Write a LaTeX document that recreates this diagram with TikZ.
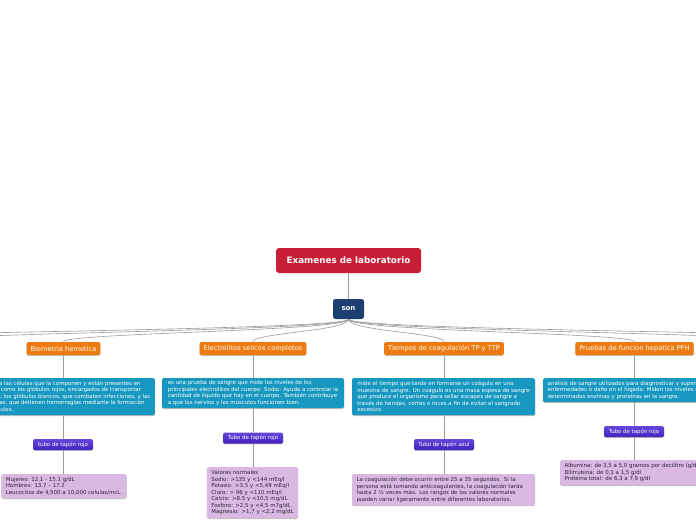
\documentclass[tikz,border=0pt]{standalone}
\usepackage{fontspec}
\setmainfont{DejaVu Sans}
\usetikzlibrary{shadows}
\definecolor{rootred}{HTML}{C71F37}
\definecolor{sonblue}{HTML}{1C3F70}
\definecolor{catorange}{HTML}{EE7B10}
\definecolor{descteal}{HTML}{1898C0}
\definecolor{tubepurple}{HTML}{4A26D4}
\definecolor{vallilac}{HTML}{D9B8E1}
\definecolor{valtext}{HTML}{2E2238}
\definecolor{connline}{HTML}{9A9A9A}
\newcommand\smallf{\fontsize{5.45}{6.5}\selectfont}
\tikzset{
  x=1pt, y=-1pt,
  conn/.style={draw=connline, line width=0.6pt},
  shad/.style={drop shadow={shadow xshift=0pt, shadow yshift=-0.8pt, opacity=0.25, fill=black}},
  rootbox/.style={fill=rootred, rounded corners=3pt, text=white, font=\fontsize{8.8}{10}\selectfont\bfseries, minimum width=145pt, minimum height=25pt, inner sep=0pt},
  sonbox/.style={fill=sonblue, rounded corners=2.5pt, text=white, font=\fontsize{7}{8}\selectfont\bfseries, minimum width=31pt, minimum height=20pt, inner sep=0pt},
  catbox/.style={fill=catorange, rounded corners=1.5pt, text=white, font=\fontsize{6.7}{7}\selectfont, minimum height=13pt, inner ysep=0pt, inner xsep=4pt, shad},
  descbox/.style={fill=descteal, rounded corners=1.5pt, text=white, font=\smallf, align=left, inner xsep=4.5pt, inner ysep=2pt, anchor=north, shad},
  tubebox/.style={top color=tubepurple!85!white, bottom color=tubepurple!90!black, rounded corners=1.5pt, text=white, font=\fontsize{5.4}{6}\selectfont, minimum width=60pt, minimum height=11pt, inner sep=0pt, shad},
  valbox/.style={fill=vallilac, rounded corners=1.5pt, text=valtext, font=\smallf, align=left, inner xsep=4.5pt, inner ysep=2pt, anchor=north, shad}
}
\begin{document}
\begin{tikzpicture}
\useasboundingbox (0,0) rectangle (696,520);
\clip (0,0) rectangle (696,520);
\fill[white] (0,0) rectangle (696,520);

% top
\node[rootbox] (root) at (348.5,260.5) {Examenes de laboratorio};
\node[sonbox] (son) at (348.5,309) {son};

% categories
\node[catbox] (bio) at (63.5,348.5) {Biometria hemetica};
\node[catbox] (ele) at (253,348.5) {Electrolitos selicos completos};
\node[catbox] (tie) at (444,348.5) {Tiempos de coagulación TP y TTP};
\node[catbox] (pru) at (634.5,348.5) {Pruebas de funcion hepatica PFH};

% off-canvas branches
\coordinate (offL1) at (-90,342);
\coordinate (offL2) at (-260,342);
\coordinate (offR1) at (790,342);
\coordinate (offR2) at (960,342);

% descriptions
\node[descbox, anchor=north east, minimum height=37pt] (dbio) at (155,378) {Examina las células que la componen y están presentes en\\sangre, como los glóbulos rojos, encargados de transportar\\oxígeno; los glóbulos blancos, que combaten infecciones, y las\\plaquetas, que detienen hemorragias mediante la formación\\de coágulos.};
\node[descbox, minimum height=30pt, minimum width=182pt] (dele) at (253,378) {es una prueba de sangre que mide los niveles de los\\principales electrolitos del cuerpo: Sodio: Ayuda a controlar la\\cantidad de líquido que hay en el cuerpo. También contribuye\\a que los nervios y los músculos funcionen bien.};
\node[descbox, minimum height=37pt, minimum width=183pt] (dtie) at (443.5,378) {mide el tiempo que tarda en formarse un coágulo en una\\muestra de sangre. Un coágulo es una masa espesa de sangre\\que produce el organismo para sellar escapes de sangre a\\través de heridas, cortes o roces a fin de evitar el sangrado\\excesivo.};
\node[descbox, anchor=north west, minimum height=24pt] (dpru) at (543,378) {análisis de sangre utilizados para diagnosticar y supervisar\\enfermedades o daño en el hígado. Miden los niveles de\\determinadas enzimas y proteínas en la sangre.};

% tubes
\node[tubebox] (tbio) at (63,444.5) {tubo de tapón rojo};
\node[tubebox] (tele) at (253,438) {Tubo de tapón rojo};
\node[tubebox] (ttie) at (444,444.5) {Tubo de tapón azul};
\node[tubebox] (tpru) at (634,431.5) {Tubo de tapón rojo};

% values
\node[valbox, minimum height=24pt, minimum width=124pt] (vbio) at (64,474) {Mujeres: 12.1 - 15.1 g/dL\\Hombres: 13.7 – 17.2\\Leucocitos de 4,500 a 10,000 celulas/mcL.};
\node[valbox, minimum height=51pt, minimum width=91pt] (vele) at (252.5,467) {Valores normales\\Sodio: >135 y <144 mEq/l\\Potasio: >3,5 y <5,49 mEq/l\\Cloro: > 96 y <110 mEq/l\\Calcio: >8.5 y <10,5 mg/dL\\Fosforo: >2,5 y <4,5 m7g/dL\\Magnesio: >1,7 y <2,2 mg/dL};
\node[valbox, minimum height=31pt, text width=174pt] (vtie) at (443.5,474) {La coagulación debe ocurrir entre 25 a 35 segundos. Si la\\persona está tomando anticoagulantes, la coagulación tarda\\hasta 2 ½ veces más. Los rangos de los valores normales\\pueden variar ligeramente entre diferentes laboratorios.};
\node[valbox, anchor=north west, minimum height=25pt] (vpru) at (560,460) {Albumina: de 3,5 a 5,0 gramos por decilitro (g/dL)\\Bilirrubina: de 0,1 a 1,5 g/dl\\Proteina total: de 6,3 a 7,9 g/dl};

% connectors
\draw[conn] (root) -- (son);
\foreach \t in {bio,ele,tie,pru}{
  \draw[conn] (son.south) .. controls +(0,12) and +(0,-9) .. (\t.north);
}
\foreach \t in {offL1,offL2,offR1,offR2}{
  \draw[conn] (son.south) .. controls +(0,12) and +(0,-9) .. (\t);
}
\draw[conn] (bio.south) -- (bio.south |- dbio.north);
\draw[conn] (ele.south) -- (dele.north);
\draw[conn] (tie.south) -- (tie.south |- dtie.north);
\draw[conn] (pru.south) -- (pru.south |- dpru.north);
\draw[conn] (tbio.north |- dbio.south) -- (tbio.north);
\draw[conn] (dele.south) -- (tele.north);
\draw[conn] (ttie.north |- dtie.south) -- (ttie.north);
\draw[conn] (tpru.north |- dpru.south) -- (tpru.north);
\draw[conn] (tbio.south) -- (tbio.south |- vbio.north);
\draw[conn] (tele.south) -- (tele.south |- vele.north);
\draw[conn] (ttie.south) -- (ttie.south |- vtie.north);
\draw[conn] (tpru.south) -- (tpru.south |- vpru.north);
\end{tikzpicture}
\end{document}
